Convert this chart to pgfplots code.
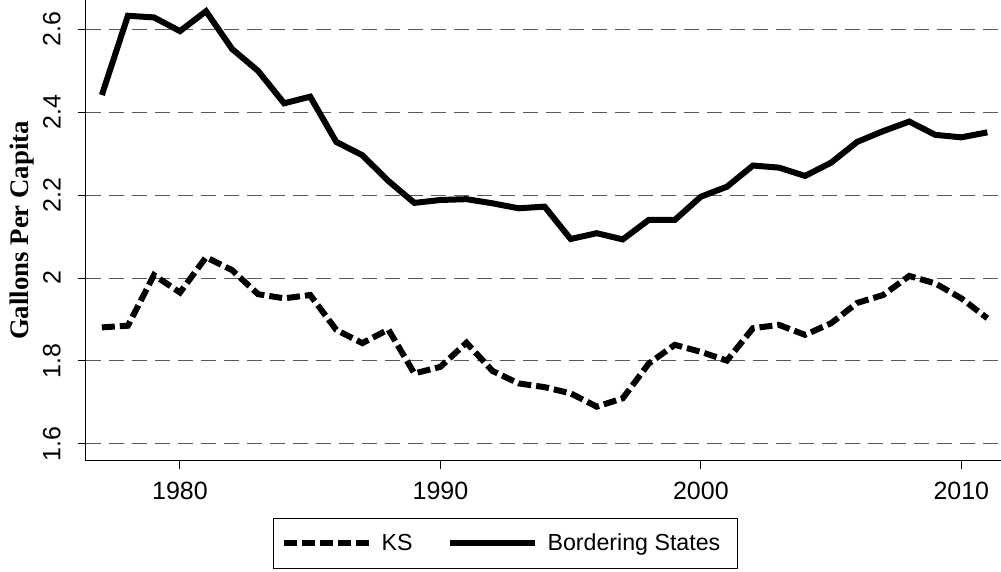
\documentclass[border=0pt]{standalone}
\usepackage{pgfplots}
\pgfplotsset{compat=1.18}
\usepackage{fontspec}
\setmainfont{Liberation Sans}
\newfontfamily\timesfont{Liberation Serif}
\begin{document}
\begin{tikzpicture}
\begin{axis}[
  at={(0,0)}, anchor=south west,
  scale only axis, width=457.6pt, height=230.5pt,
  xmin=1976.38, xmax=2011.52, ymin=1.559, ymax=2.67,
  axis x line=bottom, axis y line=left,
  axis line style={-, line width=0.5pt, black},
  tick align=outside, major tick length=4pt,
  tick style={line width=0.5pt, black},
  xtick={1980,1990,2000,2010}, xticklabels={1980,1990,2000,2010},
  ytick={1.6,1.8,2.0,2.2,2.4,2.6}, yticklabels={1.6,1.8,2,2.2,2.4,2.6},
  /pgf/number format/assume math mode=true,
  tick label style={font=\fontsize{12.5}{14}\selectfont},
  xticklabel style={yshift=-3pt},
  yticklabel style={xshift=-5pt, rotate=90, anchor=south},
  ymajorgrids, major grid style={dash pattern=on 7.5pt off 4pt, line width=0.5pt, black!65},
  ylabel={\timesfont\bfseries Gallons Per Capita},
  ylabel style={at={(axis description cs:-0.0699,0.5)}, anchor=center, font=\fontsize{13.4}{15}\selectfont},
  legend columns=2,
  legend style={at={(axis description cs:0.4587,0)}, anchor=north, yshift=-28.5pt,
    draw=black, line width=0.5pt, font=\fontsize{11.6}{13}\selectfont,
    inner xsep=3.5pt, inner ysep=5.5pt,
    nodes={inner xsep=5pt},
    /tikz/every even column/.append style={column sep=12pt}},
  legend image code/.code={\draw[#1] (0pt,0pt) -- (42.5pt,0pt);},
]
\addplot[black, line width=3pt, dash pattern=on 6.5pt off 2.5pt] coordinates {
(1977,1.881) (1978,1.885) (1979,2.007) (1980,1.965) (1981,2.050) (1982,2.019)
(1983,1.961) (1984,1.951) (1985,1.959) (1986,1.875) (1987,1.843) (1988,1.876)
(1989,1.770) (1990,1.786) (1991,1.844) (1992,1.776) (1993,1.746) (1994,1.737)
(1995,1.722) (1996,1.690) (1997,1.710) (1998,1.794) (1999,1.839) (2000,1.822)
(2001,1.801) (2002,1.879) (2003,1.887) (2004,1.863) (2005,1.891) (2006,1.940)
(2007,1.959) (2008,2.005) (2009,1.987) (2010,1.951) (2011,1.903)
};
\addlegendentry{KS}
\addplot[black, line width=3pt] coordinates {
(1977,2.441) (1978,2.632) (1979,2.628) (1980,2.595) (1981,2.643) (1982,2.552)
(1983,2.499) (1984,2.421) (1985,2.437) (1986,2.328) (1987,2.296) (1988,2.234)
(1989,2.181) (1990,2.188) (1991,2.190) (1992,2.180) (1993,2.168) (1994,2.172)
(1995,2.094) (1996,2.108) (1997,2.093) (1998,2.140) (1999,2.140) (2000,2.196)
(2001,2.220) (2002,2.271) (2003,2.266) (2004,2.246) (2005,2.278) (2006,2.328)
(2007,2.354) (2008,2.377) (2009,2.345) (2010,2.339) (2011,2.351)
};
\addlegendentry{Bordering States}
\end{axis}
\pgfresetboundingbox
\path (-42.85pt,-55.5pt) rectangle (457.65pt,230.5pt);
\end{tikzpicture}
\end{document}
